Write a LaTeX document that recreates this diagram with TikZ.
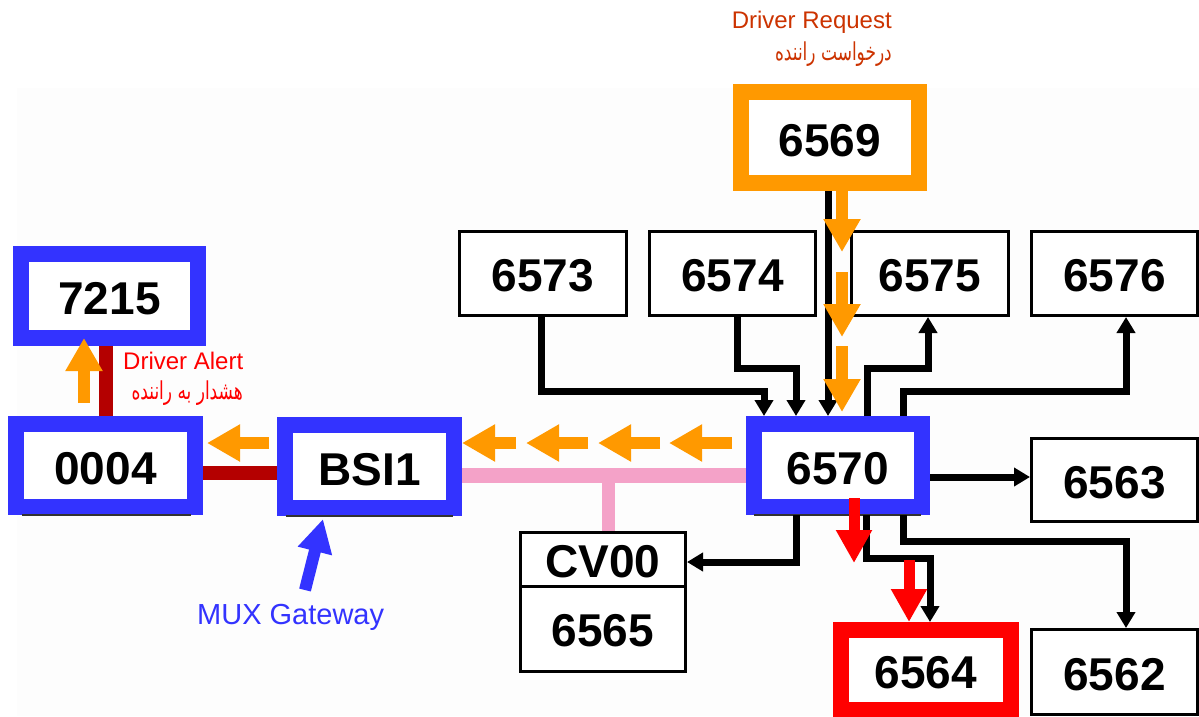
\documentclass[tikz,border=0pt]{standalone}
\usepackage{fontspec}
\setmainfont{Liberation Sans}
\newfontfamily\farsifont[Script=Arabic]{DejaVu Sans}
\TeXXeTstate=1
\usetikzlibrary{arrows.meta,calc}
\definecolor{bluec}{RGB}{51,51,255}
\definecolor{orangec}{RGB}{255,153,0}
\definecolor{redc}{RGB}{255,0,0}
\definecolor{darkredc}{RGB}{180,0,0}
\definecolor{pinkc}{RGB}{244,162,200}
\definecolor{drqc}{RGB}{204,51,0}
\definecolor{bgc}{RGB}{253,253,253}
\definecolor{shadowc}{RGB}{50,50,50}
\newcommand\dnumfont{\fontsize{46pt}{48pt}\selectfont\bfseries}
\begin{document}
\begin{tikzpicture}[x=1pt,y=-1pt,
  thickbox/.style={draw=#1,line width=16pt,fill=white,inner sep=0pt,font=\dnumfont,text height=37pt,text depth=0pt},
  thinbox/.style={draw=black,line width=3pt,fill=white,inner sep=0pt,font=\dnumfont,text height=36pt,text depth=0pt},
  conn/.style={line width=7pt,-{Triangle[width=18pt,length=16pt]}},
  oarrow/.style={draw=orangec,line width=12pt,-{Triangle[width=35pt,length=33pt]}},
  rarrow/.style={draw=redc,line width=11pt,-{Triangle[width=34pt,length=33pt]}},
  barrow/.style={draw=bluec,line width=12pt,-{Triangle[width=33pt,length=33pt]}},
  bus/.style={line width=14pt},
  shadowline/.style={draw=shadowc,line width=2pt},
  lbl/.style={inner sep=0pt,font=\fontsize{#1}{#1}\selectfont},
  falbl/.style={inner sep=0pt,font=\farsifont\fontsize{#1}{#1}\selectfont}
]
\fill[white] (0,0) rectangle (1199,716);
\fill[bgc] (17,88) rectangle (1199,716);
\useasboundingbox (0,0) rectangle (1199,716);

% boxes
\node[thickbox=orangec, minimum width=178pt, minimum height=91pt] (n6569) at (830,137.5) {6569};
\node[thickbox=bluec, minimum width=177pt, minimum height=84pt] (n7215) at (109.5,296) {7215};
\node[thickbox=bluec, minimum width=179pt, minimum height=83pt] (n0004) at (105.5,465.5) {0004};
\node[thickbox=bluec, minimum width=169pt, minimum height=83pt] (bsi) at (369.5,466.5) {BSI1};
\node[thickbox=bluec, minimum width=168pt, minimum height=83pt] (n6570) at (838,465.5) {6570};
\node[thickbox=redc, minimum width=170pt, minimum height=80pt] (n6564) at (926,670) {6564};

\node[thinbox, minimum width=167pt, minimum height=84pt] (n6573) at (543,273.5) {6573};
\node[thinbox, minimum width=166pt, minimum height=84pt] (n6574) at (732.5,273.5) {6574};
\node[thinbox, minimum width=157pt, minimum height=84pt] (n6575) at (930,273.5) {6575};
\node[thinbox, minimum width=166pt, minimum height=84pt] (n6576) at (1114.5,273.5) {6576};
\node[thinbox, minimum width=166pt, minimum height=83pt] (n6563) at (1114.5,480) {6563};
\node[thinbox, minimum width=166pt, minimum height=85pt] (n6562) at (1114.5,672) {6562};
\node[thinbox, minimum width=165pt, minimum height=53.5pt] (cv00) at (603,559.25) {CV00};
\node[thinbox, minimum width=165pt, minimum height=85.5pt] (n6565) at (603,628.75) {6565};

% box shadows (thin dark edge under the blue frames)
\draw[shadowline] ([shift={(-83.5pt,0.5pt)}]n0004.south) -- ([shift={(85.5pt,0.5pt)}]n0004.south);
\draw[shadowline] ([shift={(-83.5pt,0pt)}]bsi.south) -- ([shift={(83.5pt,0pt)}]bsi.south);
\draw[shadowline] ([shift={(-84pt,0pt)}]n6570.south) -- ([shift={(83pt,0pt)}]n6570.south);

% buses
\draw[bus,darkredc] ([xshift=-3.5pt]n7215.south) -- ([xshift=0.5pt]n0004.north);
\draw[bus,darkredc] ([yshift=-7.5pt]n0004.east) -- ([yshift=-6.5pt]bsi.west);
\draw[line width=15pt,pinkc] ([yshift=-8.5pt]bsi.east) -- ([yshift=-9.5pt]n6570.west);
\draw[line width=13pt,pinkc] ([xshift=5pt]cv00.north) -- ++(0,-57);

% black connectors
\draw[conn] ([xshift=-2pt]n6573.south) -- ++(0,74) -| ([xshift=-74pt]n6570.north);
\draw[conn] ([xshift=4.5pt]n6574.south) -- ++(0,51) -| ([xshift=-42pt]n6570.north);
\draw[conn] ([xshift=-2pt]n6569.south) -- ([xshift=-10pt]n6570.north);
\draw[conn] ([xshift=29pt]n6570.north) -- ++(0,-48) -| ([xshift=-2pt]n6575.south);
\draw[conn] ([xshift=65pt]n6570.north) -- ++(0,-25) -| ([xshift=11.5pt]n6576.south);
\draw[conn] ([yshift=-11.5pt]n6570.east) -- ([yshift=3pt]n6563.west);
\draw[conn] ([xshift=-42pt]n6570.south) |- ([yshift=-2.75pt]cv00.east);
\draw[conn] ([xshift=28pt]n6570.south) -- ++(0,43) -| ([xshift=4pt]n6564.north);
\draw[conn] ([xshift=65pt]n6570.south) -- ++(0,26) -| ([xshift=11.5pt]n6562.north);

% orange request arrows (down)
\draw[oarrow] ([xshift=12pt]n6569.south) -- ++(0,61);
\draw[oarrow] ([xshift=12pt]n6569.south) ++(0,81) -- ++(0,65);
\draw[oarrow] ([xshift=12pt]n6569.south) ++(0,155) -- ++(0,66);
% orange arrows (left)
\foreach \t/\s in {0/54,64/126,136/198,207/270}
  \draw[oarrow] ([shift={(\s pt,23.5pt)}]bsi.east) -- ([shift={(\t pt,23.5pt)}]bsi.east);
\draw[oarrow] ([shift={(66pt,22.5pt)}]n0004.east) -- ([shift={(4pt,22.5pt)}]n0004.east);
\draw[oarrow] ([shift={(-21.5pt,13pt)}]n0004.north) -- ([shift={(-25.5pt,8pt)}]n7215.south);

% red alert arrows
\draw[rarrow] ([shift={(16pt,17pt)}]n6570.south) -- ([shift={(16pt,-48pt)}]n6570.south);
\draw[rarrow] ([shift={(-17pt,62pt)}]n6564.north) -- ([xshift=-17pt]n6564.north);

% MUX gateway arrow
\draw[barrow] ([shift={(-64.5pt,-74pt)}]bsi.south) -- ([shift={(-46.5pt,-3pt)}]bsi.south);

% texts
\node[lbl=24pt, text=drqc, anchor=east] (drq) at (892,22) {Driver Request};
\node[falbl=17pt, text=drqc, anchor=east] (drqfa) at (892,54) {\scalebox{1}[1.45]{\beginR درخواست راننده\endR}};
\node[lbl=24pt, text=redc, anchor=west] (dal) at (123,361) {Driver Alert};
\node[falbl=17pt, text=redc, anchor=east] (dalfa) at (243,393) {\scalebox{1}[1.45]{\beginR هشدار به راننده\endR}};
\node[lbl=29pt, text=bluec, anchor=west] (mux) at (197,617) {MUX Gateway};
\end{tikzpicture}
\end{document}
